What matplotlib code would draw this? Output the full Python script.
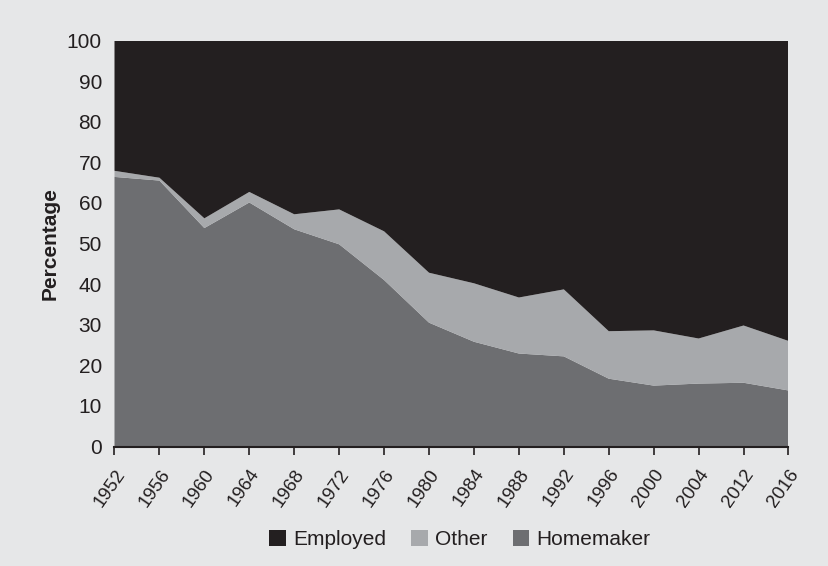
import matplotlib
matplotlib.use("Agg")
import matplotlib.pyplot as plt
import matplotlib.transforms as mtransforms
from matplotlib.patches import Patch

plt.rcParams.update({
    'font.family': ['Liberation Sans', 'DejaVu Sans'],
    'axes.unicode_minus': False
})

# survey years (no 2008 in the source)
years = ['1952', '1956', '1960', '1964', '1968', '1972', '1976', '1980', '1984',
         '1988', '1992', '1996', '2000', '2004', '2012', '2016']

homemaker = [66.4, 65.5, 53.8, 60.1, 53.5, 49.8, 41.0, 30.5, 25.8, 22.9, 22.2,
             16.7, 15.0, 15.5, 15.7, 13.8]
other = [1.5, 0.7, 2.4, 2.6, 3.7, 8.6, 12.0, 12.3, 14.4, 13.8, 16.5,
         11.7, 13.6, 11.1, 14.1, 12.2]
employed = [100 - h - o for h, o in zip(homemaker, other)]

colors = {'Employed': '#231f20', 'Other': '#a7a9ac', 'Homemaker': '#6d6e71'}
bg = '#e6e7e8'

fig = plt.figure(figsize=(8.29, 5.66), dpi=100, facecolor=bg)
ax = fig.add_axes([114.5 / 829, 1 - 446.5 / 566, 674 / 829, 406 / 566])
ax.set_facecolor(bg)

x = list(range(len(years)))
ax.stackplot(x, homemaker, other, employed,
             colors=[colors['Homemaker'], colors['Other'], colors['Employed']],
             linewidth=0)

ax.set_xlim(0, len(years) - 1)
ax.set_ylim(0, 100)
ax.set_yticks(range(0, 101, 10))
ax.set_xticks(x)
ax.set_xticklabels(years, rotation=55, ha='right', rotation_mode='anchor')

# nudge the rotated year labels a little to the right
offset = mtransforms.ScaledTranslation(5 / 72, 0, fig.dpi_scale_trans)
for lbl in ax.get_xticklabels():
    lbl.set_transform(lbl.get_transform() + offset)

for s in ['top', 'right', 'left']:
    ax.spines[s].set_visible(False)
ax.spines['bottom'].set_linewidth(1.5)
ax.spines['bottom'].set_color('#231f20')

ax.tick_params(axis='y', length=0, pad=9, labelsize=15, colors='#231f20')
ax.tick_params(axis='x', length=6, width=1.2, pad=8, labelsize=13.5,
               colors='#231f20')
ax.set_ylabel('Percentage', fontsize=15, fontweight='bold', color='#231f20')
ax.yaxis.set_label_coords(-0.081, 0.5)

handles = [Patch(facecolor=colors[k], edgecolor='none', label=k)
           for k in ['Employed', 'Other', 'Homemaker']]
leg = fig.legend(handles=handles, loc='center',
                 bbox_to_anchor=(460 / 829, 1 - 539.5 / 566),
                 ncol=3, frameon=False, fontsize=15, handlelength=0.8,
                 handleheight=0.8, handletextpad=0.35, columnspacing=1.2)
for t in leg.get_texts():
    t.set_color('#231f20')

fig.savefig('out.png', dpi=100, facecolor=bg)
